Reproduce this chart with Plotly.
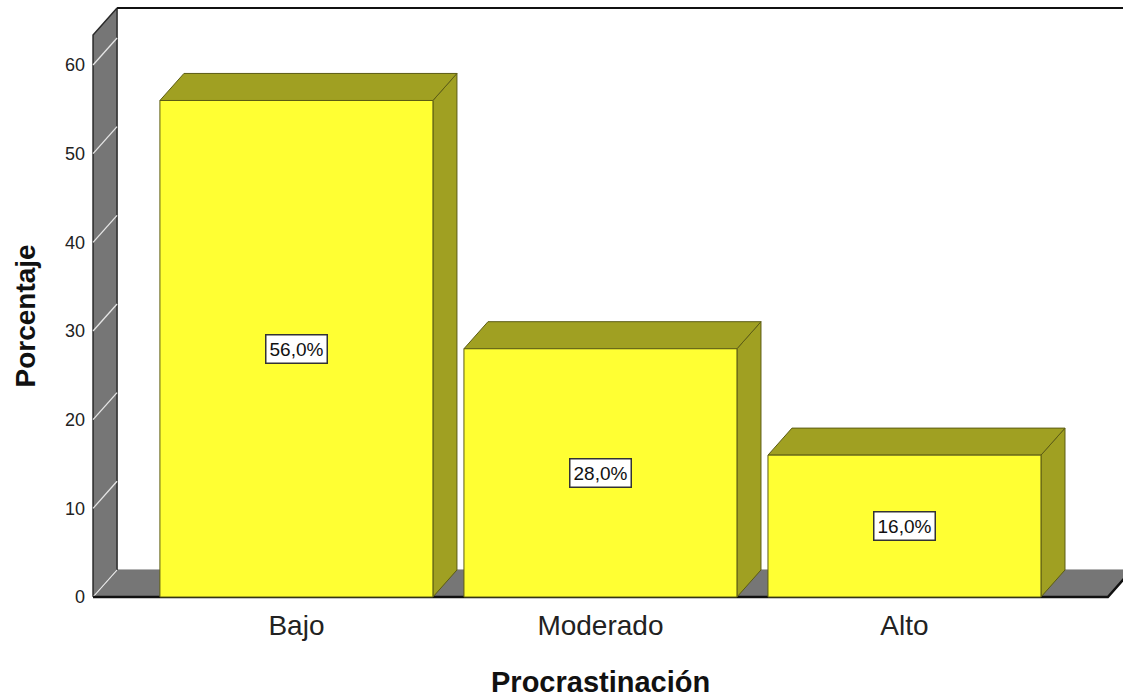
import plotly.graph_objects as go

# ---- data ----
categories = ["Bajo", "Moderado", "Alto"]
percentages = [56.0, 28.0, 16.0]
y_ticks = [0, 10, 20, 30, 40, 50, 60]
x_title = "Procrastinación"
y_title = "Porcentaje"

# ---- 3D look constants (in data units) ----
HALF_W = 0.449          # half width of bar front face
DX = 0.079              # depth offset along x
DY = 3.05               # depth offset along y
X_LEFT = -0.669         # front-left edge of chart floor/wall
X_RIGHT = 2.669         # front-right edge of floor
WALL_TOP = 63.38

GRAY = "#767676"
YELLOW = "#FFFF33"
OLIVE = "#A0A022"
EDGE = "#5c5c14"
FONT = "Liberation Sans, Arial"

fig = go.Figure()

def poly(xs, ys, fill, line_color, line_width=1):
    fig.add_trace(go.Scatter(
        x=list(xs) + [xs[0]], y=list(ys) + [ys[0]],
        mode="lines", fill="toself", fillcolor=fill,
        line=dict(color=line_color, width=line_width),
        hoverinfo="skip", showlegend=False))

def seg(xs, ys, color, width):
    fig.add_trace(go.Scatter(x=xs, y=ys, mode="lines",
                             line=dict(color=color, width=width),
                             hoverinfo="skip", showlegend=False))

# floor
poly([X_LEFT, X_RIGHT, X_RIGHT + DX, X_LEFT + DX],
     [0, 0, DY, DY], GRAY, GRAY, 1)
# left wall
poly([X_LEFT, X_LEFT + DX, X_LEFT + DX, X_LEFT],
     [0, DY, WALL_TOP + DY, WALL_TOP], GRAY, "#2a2a2a", 1.5)
# wall gridlines
for t in y_ticks:
    seg([X_LEFT, X_LEFT + DX], [t, t + DY], "#e6e6e6", 1.3)
# back wall top edge
seg([X_LEFT + DX, X_RIGHT + 2 * DX], [WALL_TOP + DY, WALL_TOP + DY], "#111111", 2)
# floor front and right edges
seg([X_LEFT, X_RIGHT, X_RIGHT + DX], [0, 0, DY], "#111111", 2.5)

# bars
for i, v in enumerate(percentages):
    x0, x1 = i - HALF_W, i + HALF_W
    # side face
    poly([x1, x1 + DX, x1 + DX, x1], [0, DY, v + DY, v], OLIVE, EDGE, 1)
    # top face
    poly([x0, x1, x1 + DX, x0 + DX], [v, v, v + DY, v + DY], OLIVE, EDGE, 1)
    # front face
    poly([x0, x1, x1, x0], [0, 0, v, v], YELLOW, EDGE, 1)
    fig.add_annotation(x=i, y=v / 2, text=f"{v:.1f}%".replace(".", ","),
                       showarrow=False, bgcolor="white", bordercolor="#333333",
                       borderwidth=1.5, borderpad=3,
                       font=dict(family=FONT, size=19, color="#111111"))

# axis titles
fig.add_annotation(xref="paper", x=0, xshift=-82, yref="y", y=WALL_TOP / 2,
                   text=f"<b>{y_title}</b>", textangle=-90, showarrow=False,
                   font=dict(family=FONT, size=28, color="#111111"))
fig.add_annotation(xref="x", x=(X_LEFT + X_RIGHT) / 2, yref="paper", y=0, yshift=-100,
                   text=f"<b>{x_title}</b>", showarrow=False,
                   font=dict(family=FONT, size=29, color="#111111"))

fig.update_layout(
    width=1123, height=700,
    margin=dict(l=90, r=0, t=5, b=100),
    plot_bgcolor="white", paper_bgcolor="white",
    showlegend=False,
    xaxis=dict(range=[-0.679, 2.7188], tickvals=list(range(len(categories))),
               ticktext=categories, showgrid=False, zeroline=False, showline=False,
               ticks="", ticklabelstandoff=6,
               tickfont=dict(family=FONT, size=28, color="#222222")),
    yaxis=dict(range=[-0.338, 66.77], tickvals=y_ticks, showgrid=False,
               zeroline=False, showline=False, ticks="", ticklabelstandoff=4,
               tickfont=dict(family=FONT, size=18, color="#222222")),
)

fig.write_html("out.html")
